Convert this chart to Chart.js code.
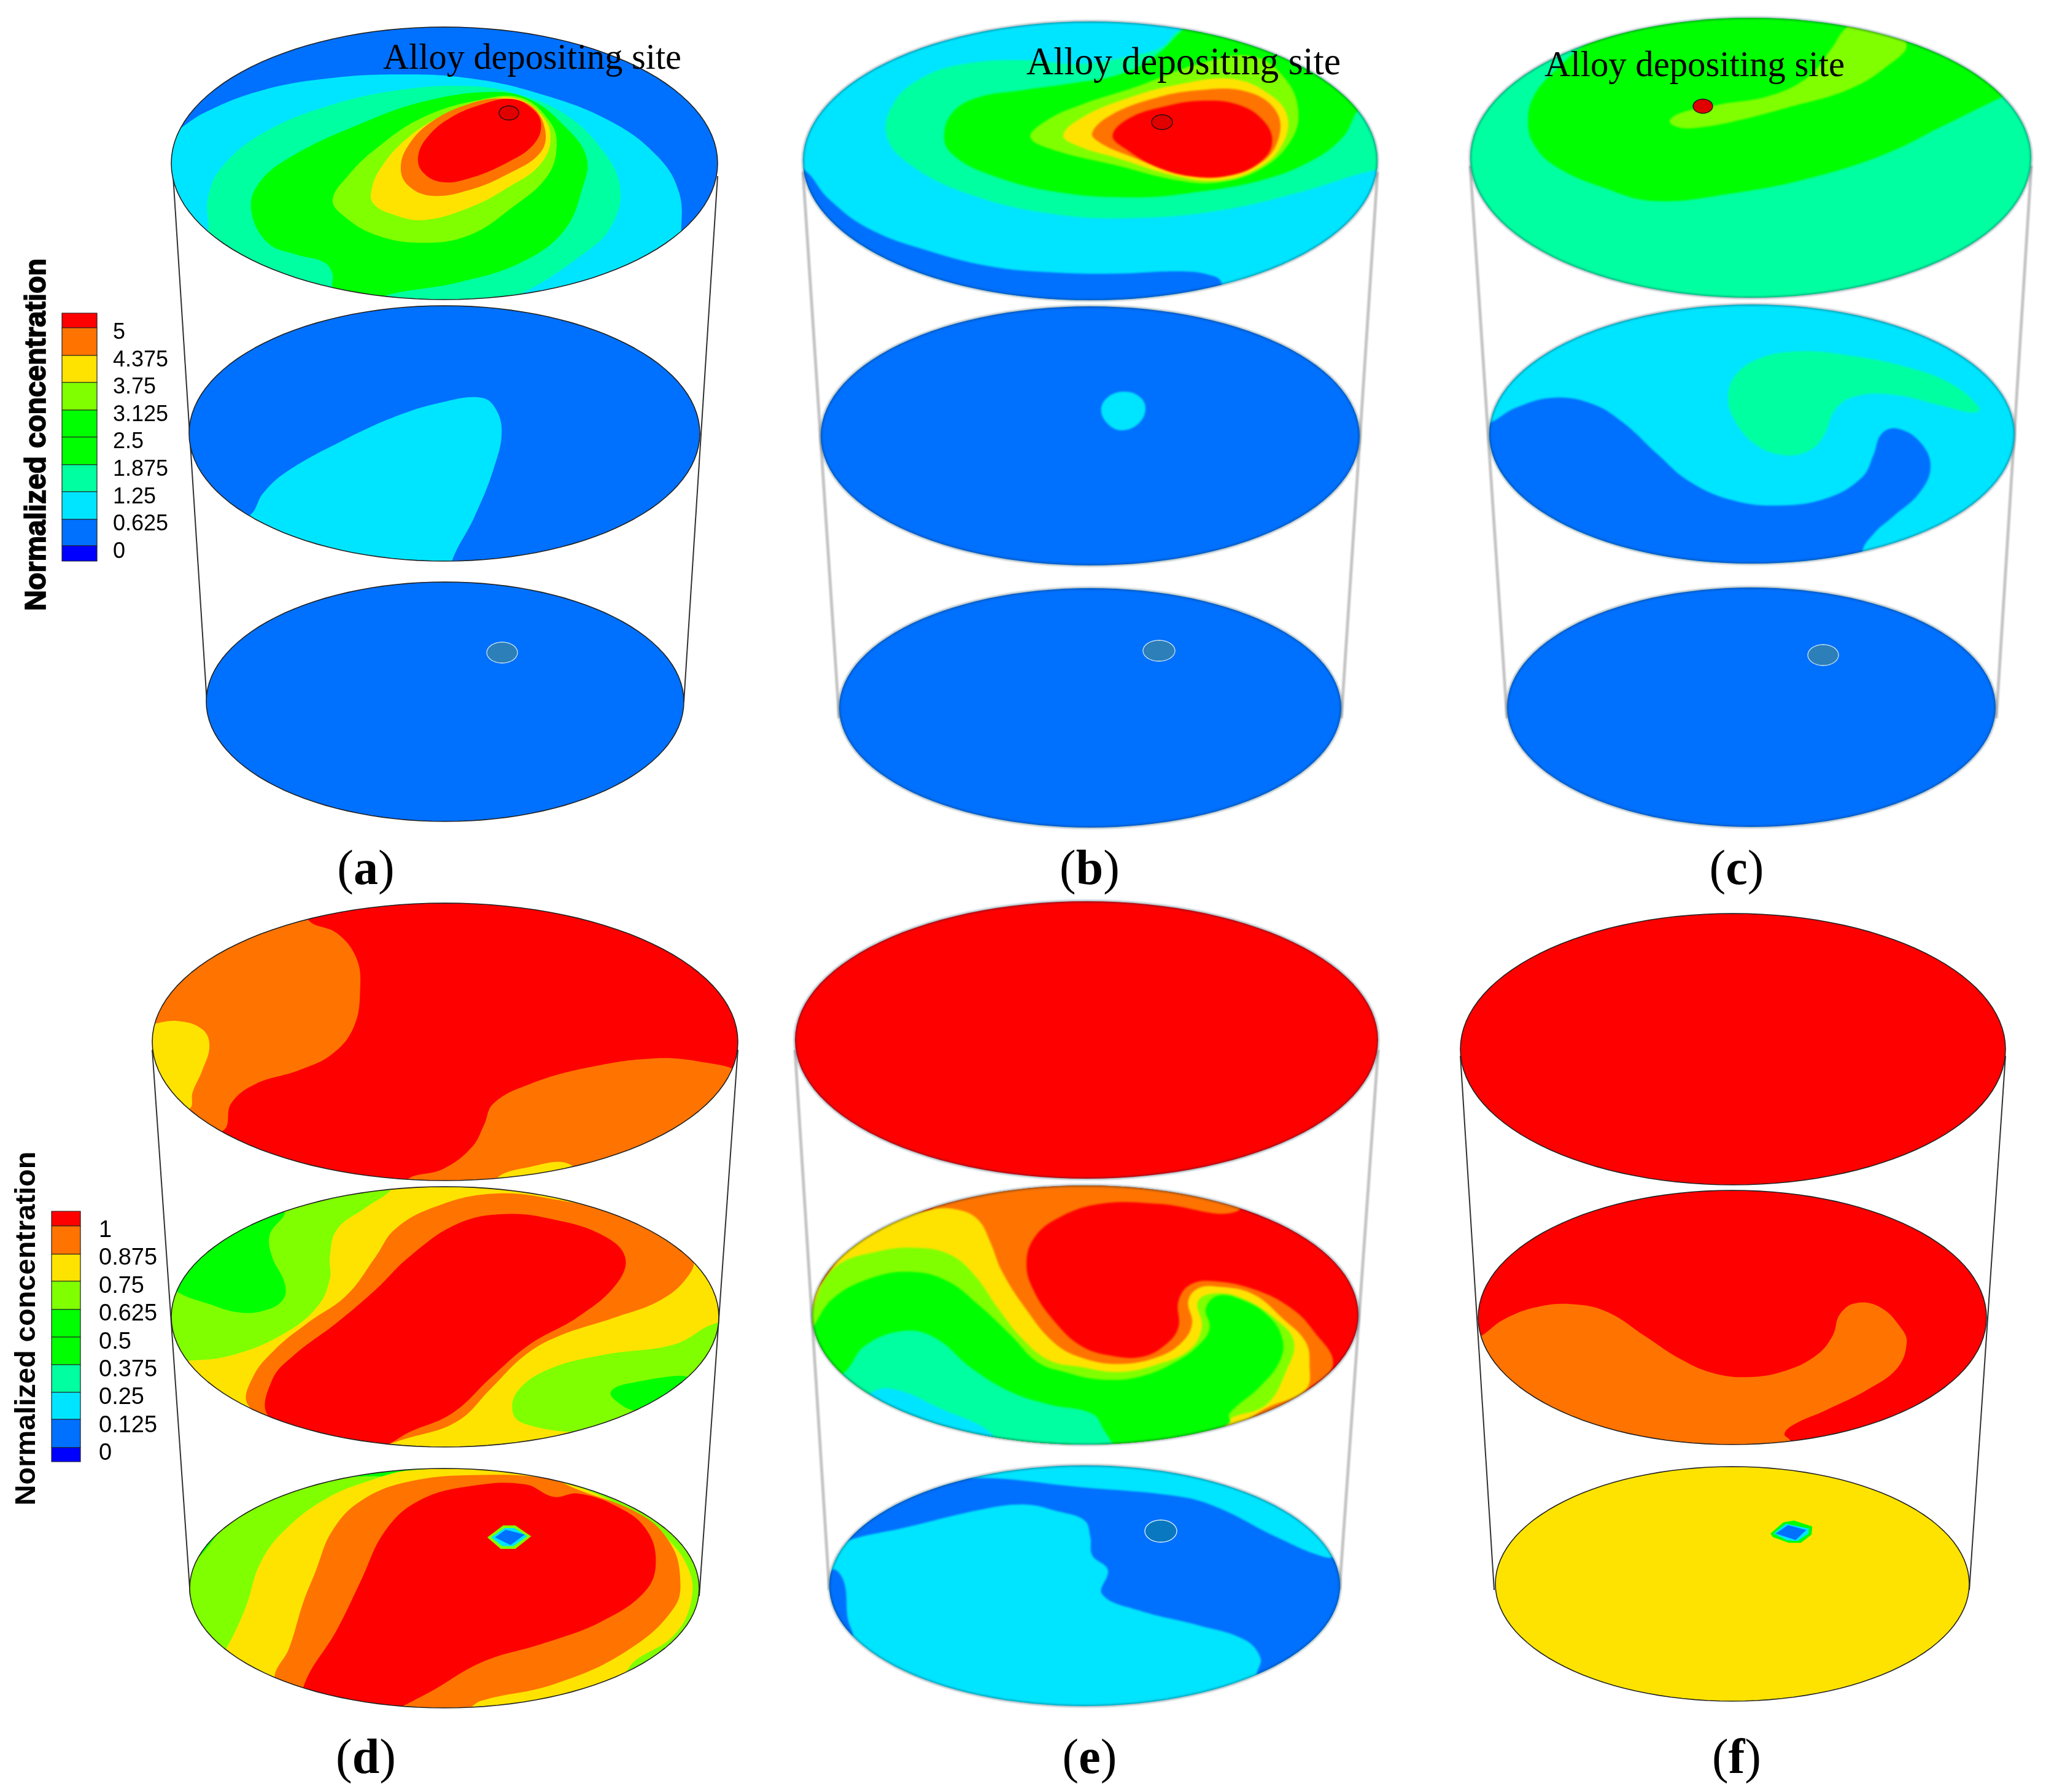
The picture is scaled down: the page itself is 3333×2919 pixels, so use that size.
<!DOCTYPE html>
<html><head><meta charset="utf-8">
<style>html,body{margin:0;padding:0;background:#fff}canvas{display:block}</style>
<script src="https://cdn.jsdelivr.net/npm/chart.js@4"></script>
</head><body><canvas id="c" width="3333" height="2919"></canvas>
<script>
// ---------- palette / legend values ----------
const levelColours=['#ff0000','#ff7300','#ffe300','#80ff00','#00ff00','#00ff00','#00ffa0','#00e5ff','#0070ff','#0000ff'];
const [RED,ORG,YEL,LIM,GRN,GR2,SPR,CYN,BLU]=levelColours;
const ticksUpper=['5','4.375','3.75','3.125','2.5','1.875','1.25','0.625','0'];
const ticksLower=['1','0.875','0.75','0.625','0.5','0.375','0.25','0.125','0'];
const barUpperY=[510,534,579,623,668,712,757,801,846,889,914];
const barLowerY=[1973,1997,2043,2087,2133,2178,2223,2268,2312,2358,2381];
const panelLabels=['a','b','c','d','e','f'];

// ---------- contour outlines ----------
const aTopCyan=[[370,340],[440,285],[560,230],[700,200],[850,190],[1000,200],[1150,240],[1300,310],[1400,400],[1445,490],[1450,590],[1440,820],[600,840],[250,600],[300,400]];
const aTopSpring=[[440,600],[442,510],[470,430],[560,340],[700,270],[850,230],[1000,220],[1100,240],[1200,290],[1280,380],[1320,480],[1300,580],[1240,650],[1110,750],[1000,800],[830,800],[600,720],[400,620]];
const aTopGreen=[[710,735],[708,700],[690,670],[630,650],[570,620],[535,540],[550,470],[620,400],[760,320],[900,260],[1050,235],[1130,255],[1200,320],[1248,400],[1240,480],[1200,590],[1110,670],[980,720],[835,750],[780,770]];
const aTopLime=[[708,510],[740,450],[800,380],[900,300],[1020,255],[1110,250],[1170,310],[1185,370],[1165,450],[1090,530],[1000,600],[900,620],[800,600],[730,550]];
const aTopYellow=[[790,490],[810,430],[870,350],[960,285],[1040,255],[1100,252],[1150,290],[1172,350],[1150,420],[1080,480],[1000,530],[900,562],[830,545],[795,520]];
const aTopOrange=[[853,430],[870,370],[920,310],[1000,265],[1070,252],[1130,270],[1160,330],[1150,390],[1080,445],[1000,485],[920,500],[870,475]];
const aTopRed=[[890,400],[910,350],[960,300],[1030,265],[1090,253],[1135,280],[1152,320],[1135,370],[1080,415],[1000,455],[940,465],[900,440]];
const aMidCyan=[[533,1315],[560,1260],[610,1205],[730,1125],[850,1060],[950,1025],[1020,1015],[1050,1035],[1068,1100],[1050,1200],[1010,1320],[960,1440],[960,1500],[500,1500],[480,1340]];

const bTopBlue=[[87,450],[150,530],[250,610],[400,670],[550,710],[700,725],[850,728],[1000,722],[1070,730],[1105,752],[1100,850],[50,850],[40,450]];
const bTopSpring=[[290,360],[310,270],[380,205],[480,170],[620,160],[760,170],[880,150],[960,125],[1005,80],[1200,40],[1600,300],[1600,440],[1480,452],[1300,510],[1100,560],[900,580],[700,570],[500,520],[350,440]];
const bTopGreen=[[430,365],[450,300],[510,260],[620,240],[750,220],[850,200],[930,160],[1005,85],[1050,30],[1300,30],[1560,170],[1440,290],[1400,365],[1320,430],[1200,480],[1050,510],[900,525],[700,510],[530,460],[450,410]];
const bTopLime=[[640,365],[680,320],[760,280],[900,230],[1050,170],[1180,150],[1260,210],[1292,300],[1270,380],[1200,450],[1100,485],[1000,480],[850,440],[700,400]];
const bTopYellow=[[720,360],[770,310],[880,260],[1000,225],[1130,210],[1220,250],[1265,310],[1250,390],[1190,450],[1100,480],[1000,470],[850,420],[760,390]];
const bTopOrange=[[790,355],[830,310],[930,265],[1050,240],[1170,245],[1240,300],[1240,380],[1190,440],[1100,470],[1000,460],[870,410],[810,380]];
const bTopRed=[[840,360],[880,315],[960,285],[1060,268],[1150,280],[1210,325],[1228,380],[1200,430],[1130,465],[1040,470],[950,445],[870,395]];
const bMidCyan=[[812,1090],[830,1055],[870,1042],[905,1055],[920,1085],[905,1125],[865,1145],[830,1130]];

const cTopGreen=[[222,320],[235,260],[280,200],[400,100],[600,20],[1045,10],[1400,30],[1640,170],[1450,260],[1300,335],[1150,410],[950,475],[750,515],[550,535],[420,500],[290,440],[235,380]];
const cTopLime=[[590,322],[620,300],[720,278],[850,255],[950,205],[1010,130],[1045,78],[1100,40],[1205,115],[1150,180],[1050,240],[900,285],[770,320],[660,340],[610,338]];
const cMidSpring=[[742,1060],[760,1000],[820,955],[920,935],[1050,945],[1200,975],[1320,1020],[1395,1085],[1380,1098],[1300,1080],[1170,1050],[1070,1055],[1020,1090],[990,1160],[950,1200],[880,1210],[810,1180],[760,1120]];
const cMidBlue=[[122,1125],[190,1085],[290,1058],[390,1075],[470,1125],[560,1210],[640,1280],[750,1330],[870,1345],[1000,1325],[1090,1270],[1120,1210],[1140,1155],[1180,1140],[1240,1175],[1268,1240],[1240,1310],[1170,1375],[1120,1420],[1090,1470],[1090,1600],[80,1600],[80,1130]];

const dTopOrangeA=[[640,65],[700,90],[740,135],[748,190],[735,260],[690,310],[620,340],[530,365],[480,400],[463,450],[300,500],[200,300],[300,100],[640,20]];
const dTopYellowA=[[318,255],[370,250],[420,265],[435,295],[420,340],[400,380],[393,410],[300,420],[280,260]];
const dTopOrangeB=[[845,540],[920,520],[980,480],[1005,440],[1025,400],[1100,365],[1220,335],[1360,318],[1460,325],[1540,345],[1640,420],[1500,620],[1000,640],[845,580]];
const dTopYellowB=[[1030,538],[1090,518],[1185,512],[1200,570],[1030,570]];
const dMidLimeA=[[815,555],[760,590],[700,630],[685,680],[685,720],[660,770],[590,820],[480,860],[385,870],[300,870],[300,600],[600,500],[815,530]];
const dMidGreenA=[[590,595],[560,640],[565,680],[590,725],[590,755],[560,775],[500,782],[430,765],[370,745],[300,700],[500,550]];
const dMidOrange=[[515,950],[525,900],[570,850],[640,800],[720,750],[780,680],[820,630],[900,590],[1020,565],[1150,575],[1300,610],[1437,685],[1425,720],[1370,760],[1280,790],[1160,825],[1090,860],[1020,920],[950,980],[850,1010],[770,1025],[600,1000]];
const dMidRed=[[557,970],[565,905],[610,860],[700,800],[780,740],[850,680],[950,620],[1050,602],[1150,612],[1250,640],[1298,680],[1280,730],[1200,790],[1100,840],[1020,900],[940,965],[850,1000],[790,1025],[660,1010]];
const dMidLimeB=[[1492,800],[1400,840],[1260,858],[1140,885],[1075,925],[1065,965],[1090,985],[1200,1000],[1600,1000],[1600,800]];
const dMidGreenB=[[1268,928],[1300,912],[1430,900],[1350,950],[1320,960],[1290,950]];
const dBotGreen=[[410,1230],[470,1170],[560,1120],[700,1085],[900,1068],[900,1000],[300,1100],[300,1300]];
const dBotYellow=[[850,1070],[780,1085],[680,1120],[590,1180],[540,1240],[510,1320],[470,1395],[400,1500],[1300,1600],[1300,1440],[1400,1370],[1435,1310],[1430,1250],[1380,1190],[1300,1140],[1180,1095],[1000,1068]];
const dBotOrange=[[1000,1078],[850,1090],[750,1125],[690,1180],[655,1255],[630,1310],[600,1395],[570,1450],[600,1550],[960,1510],[1000,1490],[1150,1460],[1300,1400],[1400,1320],[1412,1260],[1390,1200],[1330,1150],[1200,1105],[1140,1085]];
const dBotRed=[[630,1465],[700,1360],[750,1270],[800,1180],[870,1125],[980,1098],[1090,1095],[1150,1118],[1200,1112],[1280,1135],[1340,1175],[1362,1235],[1340,1290],[1250,1345],[1130,1385],[1000,1420],[880,1480],[790,1510],[650,1490]];
const dSpotOuter=[[1012,1192],[1045,1170],[1070,1170],[1103,1190],[1070,1213],[1040,1213]];
const dSpotMiddle=[[1020,1192],[1048,1175],[1068,1175],[1095,1190],[1066,1208],[1043,1208]];
const dSpotInner=[[1028,1192],[1050,1178],[1090,1187],[1060,1206]];

const eMidOrange=[[420,150],[420,50],[1200,50],[1200,155],[1000,135],[850,135],[740,175],[680,230],[662,300],[680,370],[730,450],[800,520],[880,548],[960,550],[1020,515],[1050,470],[1050,400],[1080,355],[1140,345],[1250,370],[1340,420],[1395,480],[1445,570],[1380,640],[1200,800],[300,800],[60,400]];
const eMidYellow=[[130,360],[200,260],[300,190],[420,150],[490,152],[540,180],[570,240],[600,320],[660,420],[730,510],[800,552],[900,570],[1000,550],[1060,510],[1085,460],[1075,400],[1100,365],[1150,360],[1240,380],[1320,450],[1375,510],[1385,570],[1375,640],[1275,690],[1000,850],[50,600],[50,400]];
const eMidLime=[[115,420],[170,310],[280,265],[390,255],[470,275],[530,330],[590,420],[650,500],[720,560],[800,578],[900,592],[1000,570],[1080,530],[1110,470],[1100,400],[1150,378],[1220,395],[1300,450],[1345,510],[1325,590],[1275,680],[1180,720],[1000,850],[50,600]];
const eMidGreen=[[120,465],[170,390],[270,335],[370,320],[460,345],[540,410],[620,490],[690,565],[760,592],[850,612],[950,605],[1050,560],[1110,510],[1130,470],[1120,420],[1150,385],[1210,395],[1280,440],[1315,500],[1310,560],[1260,630],[1180,705],[1180,730],[1000,850],[50,600]];
const eMidSpring=[[200,590],[250,520],[350,480],[430,500],[520,580],[620,645],[720,680],[830,705],[860,750],[885,800],[885,860],[300,860],[120,660]];
const eMidCyan=[[270,645],[330,640],[420,680],[580,770],[500,830],[200,720]];
const eBotBlue=[[205,1050],[350,1015],[550,965],[660,952],[740,970],[810,995],[825,1040],[830,1090],[870,1130],[855,1195],[950,1240],[1100,1280],[1220,1320],[1260,1370],[1255,1420],[1500,1500],[1500,1100],[1425,1095],[1300,1040],[1150,960],[1050,930],[800,905],[540,880],[300,900],[100,1100]];
const eBotBlueEdge=[[165,1130],[195,1160],[205,1260],[215,1310],[100,1250]];

const fMidOrange=[[55,482],[120,435],[220,398],[330,392],[420,415],[520,480],[620,545],[710,585],[810,598],[920,580],[1010,535],[1055,480],[1075,420],[1120,388],[1190,400],[1250,460],[1265,500],[1240,570],[1160,630],[1040,690],[940,735],[918,760],[935,780],[935,850],[0,850],[0,500]];
const fSpotOuter=[[878,1042],[915,1010],[945,1005],[997,1022],[995,1045],[965,1068],[930,1068],[885,1052]];
const fSpotMiddle=[[888,1042],[922,1014],[988,1028],[986,1042],[955,1063],[925,1061]];
const fSpotInner=[[893,1042],[928,1018],[980,1032],[950,1060]];

// discs: centre x, centre y, radius x, radius y
const aTop=[724,266,445,222],aMid=[724,706,416,208],aBot=[725,1143,389,195];
const bTop=[1776,262,468,227],bMid=[1776,710,439,211],bBot=[1776,1153,409,195];
const cTop=[2852,257,457,228],cMid=[2854,707,428,211],cBot=[2853,1152,398,195];
const dTop=[725,1697,477,226],dMid=[725,2145,446,212],dBot=[724,2587,415,195];
const eTop=[1770,1694,475,226],eMid=[1768,2142,445,211],eBot=[1767,2583,416,196];
const fTop=[2823,1709,444,221],fMid=[2822,2146,414,207],fBot=[2822,2580,386,191];

// cylinder edges: x0,y0,x1,y1
const coneA=[[282,287,337,1143],[1169,287,1114,1143]];
const coneB=[[1308,280,1367,1170],[2244,280,2185,1170]];
const coneC=[[2395,270,2455,1170],[3309,270,3252,1170]];
const coneD=[[248,1710,310,2600],[1202,1710,1139,2600]];
const coneE=[[1295,1710,1351,2590],[2245,1710,2182,2590]];
const coneF=[[2379,1720,2434,2590],[3267,1720,3208,2590]];

// marker ellipses: x,y,rx,ry
const siteA=[829,184,16,11.5],siteB=[1893,199,17,12],siteC=[2774,173,16,11.5];
const wellA=[818,1063,25,17],wellB=[1888,1060,26,17],wellC=[2970,1067,25,17],wellE=[1891,2494,26,18];

// crop frames the outlines were read in
const frA=[0,0,1200/1568,1000/1568],frB=[1250,0,1050/1568,960/1568],frC=[2350,0,983/1568,960/1568];
const frD=[0,1440,1230/1568,1400/1568],frE=[1250,1880,1000/1568,940/1568],frF=[2380,1900,900/1568,900/1568];

// ---------- build datasets ----------
const toPts=(fr,a)=>a.map(([x,y])=>({x:fr[0]+x*fr[2],y:fr[1]+y*fr[3]}));
const ovalPts=(g)=>{const p=[];for(let i=0;i<120;i++){const t=i/120*2*Math.PI;p.push({x:g[0]+g[2]*Math.cos(t),y:g[1]+g[3]*Math.sin(t)});}return p;};
const layers=[];
function push(o){o.order=-layers.length;o.pointRadius=0;layers.push(o);}
function cone(c,soft){c.forEach(s=>push({data:[{x:s[0],y:s[1]},{x:s[2],y:s[3]}],open:true,tension:0,
  borderColor:soft?'#c4c4c4':'#303030',borderWidth:soft?5:2,backgroundColor:'transparent',blur:soft?1:0}));}
function disc(g,base,regions,soft){
  push({data:ovalPts(g),tension:0,backgroundColor:base,borderWidth:0});
  regions.forEach(([col,arr,fr,t])=>push({data:toPts(fr,arr),tension:t===undefined?0.4:t,backgroundColor:col,clipTo:g,blur:soft?1.5:0,borderWidth:0}));
  push({data:ovalPts(g),tension:0,backgroundColor:'transparent',borderColor:soft?'rgba(0,50,70,0.35)':'#222',borderWidth:soft?4:1.6,blur:soft?1.5:0,strokeOnly:true});
}
function marker(m,fill,stroke){push({data:ovalPts(m),tension:0,backgroundColor:fill,borderColor:stroke,borderWidth:1.3});}
function colourBar(xs,ys){levelColours.forEach((c,i)=>push({tension:0,backgroundColor:c,borderColor:'#222',borderWidth:1.2,
  data:[{x:xs[0],y:ys[i]},{x:xs[1],y:ys[i]},{x:xs[1],y:ys[i+1]},{x:xs[0],y:ys[i+1]}]}));}

cone(coneA,false);cone(coneB,true);cone(coneC,true);cone(coneD,false);cone(coneE,true);cone(coneF,false);

disc(aTop,BLU,[[CYN,aTopCyan,frA],[SPR,aTopSpring,frA],[GRN,aTopGreen,frA],[LIM,aTopLime,frA],[YEL,aTopYellow,frA],[ORG,aTopOrange,frA],[RED,aTopRed,frA]]);
marker(siteA,'#e00000','#111');
disc(aMid,BLU,[[CYN,aMidCyan,frA]]);
disc(aBot,BLU,[]);marker(wellA,'#2c7fb8','#cfe6f0');

disc(bTop,CYN,[[BLU,bTopBlue,frB],[SPR,bTopSpring,frB],[GRN,bTopGreen,frB],[LIM,bTopLime,frB],[YEL,bTopYellow,frB],[ORG,bTopOrange,frB],[RED,bTopRed,frB]],true);
marker(siteB,'#e00000','#111');
disc(bMid,BLU,[[CYN,bMidCyan,frB]],true);
disc(bBot,BLU,[],true);marker(wellB,'#2c7fb8','#cfe6f0');

disc(cTop,SPR,[[GRN,cTopGreen,frC],[LIM,cTopLime,frC]],true);
marker(siteC,'#e00000','#111');
disc(cMid,CYN,[[SPR,cMidSpring,frC],[BLU,cMidBlue,frC]],true);
disc(cBot,BLU,[],true);marker(wellC,'#2c7fb8','#cfe6f0');

disc(dTop,RED,[[ORG,dTopOrangeA,frD],[YEL,dTopYellowA,frD],[ORG,dTopOrangeB,frD],[YEL,dTopYellowB,frD]]);
disc(dMid,YEL,[[LIM,dMidLimeA,frD],[GRN,dMidGreenA,frD],[ORG,dMidOrange,frD],[RED,dMidRed,frD],[LIM,dMidLimeB,frD],[GRN,dMidGreenB,frD]]);
disc(dBot,LIM,[[GRN,dBotGreen,frD],[YEL,dBotYellow,frD],[ORG,dBotOrange,frD],[RED,dBotRed,frD],[LIM,dSpotOuter,frD,0],[CYN,dSpotMiddle,frD,0],[BLU,dSpotInner,frD,0]]);

disc(eTop,RED,[],true);
disc(eMid,RED,[[ORG,eMidOrange,frE],[YEL,eMidYellow,frE],[LIM,eMidLime,frE],[GRN,eMidGreen,frE],[SPR,eMidSpring,frE],[CYN,eMidCyan,frE]],true);
disc(eBot,CYN,[[BLU,eBotBlue,frE],[BLU,eBotBlueEdge,frE]],true);marker(wellE,'#0a78c0','#e8f4ff');

disc(fTop,RED,[]);
disc(fMid,RED,[[ORG,fMidOrange,frF]]);
disc(fBot,YEL,[[GRN,fSpotOuter,frF,0],[CYN,fSpotMiddle,frF,0],[BLU,fSpotInner,frF,0]]);

colourBar([101,158],barUpperY);
colourBar([84,131],barLowerY);

// ---------- controller: closed filled contour on the library's line element ----------
class Region extends Chart.LineController{
  update(mode){const ds=this.getDataset(),l=this.getMeta().dataset;l._loop=!ds.open;l._fullLoop=!ds.open;super.update(mode);}
  draw(){
    const ds=this.getDataset(),chart=this.chart,ctx=chart.ctx,line=this.getMeta().dataset;
    const sx=chart.scales.x,sy=chart.scales.y;
    line.updateControlPoints(chart.chartArea,'x');
    ctx.save();
    if(ds.clipTo){const g=ds.clipTo;ctx.beginPath();
      ctx.ellipse(sx.getPixelForValue(g[0]),sy.getPixelForValue(g[1]),g[2],g[3],0,0,2*Math.PI);ctx.clip();}
    if(ds.blur)ctx.filter='blur('+ds.blur+'px)';
    ctx.beginPath();line.path(ctx);if(!ds.open)ctx.closePath();
    if(!ds.open&&!ds.strokeOnly){ctx.fillStyle=ds.backgroundColor;ctx.fill();}
    if(ds.borderWidth){ctx.lineWidth=ds.borderWidth;ctx.strokeStyle=ds.borderColor;ctx.lineJoin='round';ctx.stroke();}
    ctx.restore();
  }
}
Region.id='region';
Region.defaults={datasetElementType:'line',dataElementType:'point',showLine:true,spanGaps:false};
Chart.register(Region);

// ---------- text ----------
const SERIF='"Liberation Serif",serif',SANS='"Liberation Sans",Arial,sans-serif';
const textPlugin={id:'texts',afterDraw(chart){
  const c=chart.ctx,X=v=>chart.scales.x.getPixelForValue(v),Y=v=>chart.scales.y.getPixelForValue(v);
  c.save();c.fillStyle='#000';c.textBaseline='alphabetic';
  const put=(t,x,y,f,w,al)=>{c.font=f;c.textAlign=al||'left';w?c.fillText(t,X(x),Y(y),w):c.fillText(t,X(x),Y(y));};
  put('Alloy depositing site',624,112,'60px '+SERIF,486);
  put('Alloy depositing site',1672,121,'64px '+SERIF,512);
  put('Alloy depositing site',2516,124,'60px '+SERIF,489);
  ticksUpper.forEach((t,i)=>put(t,184,552+i*44.6,'36px '+SANS));
  ticksLower.forEach((t,i)=>put(t,161,2015+i*45.4,'38px '+SANS));
  const rot=(x,y,w,f,heavy)=>{c.save();c.translate(X(x),Y(y));c.rotate(-Math.PI/2);c.font=f;c.textAlign='center';c.fillText('Normalized concentration',0,0,w);
    if(heavy){c.lineWidth=1.6;c.strokeStyle='#000';c.strokeText('Normalized concentration',0,0,w);}c.restore();};
  rot(74,708,574,'bold 48px '+SANS,true);
  rot(57,2164,577,'bold 47px '+SANS,false);
  const lab=[[596,1440],[1775,1440],[2829,1440],[596,2888],[1775,2888],[2829,2888]];
  panelLabels.forEach((l,i)=>{
    const fR='80px '+SERIF,fB='bold 80px '+SERIF;
    c.textAlign='left';c.font=fR;const p=c.measureText('(').width;c.font=fB;const m=c.measureText(l).width;
    let x=X(lab[i][0])-(2*p+m)/2;const y=Y(lab[i][1]);
    c.font=fR;c.fillText('(',x,y);x+=p;c.font=fB;c.fillText(l,x,y);x+=m;c.font=fR;c.fillText(')',x,y);
  });
  c.restore();
}};

new Chart(document.getElementById('c'),{
  type:'region',
  data:{datasets:layers},
  plugins:[textPlugin],
  options:{responsive:false,animation:false,events:[],
    layout:{padding:0},
    plugins:{legend:{display:false},tooltip:{enabled:false},title:{display:false}},
    scales:{
      x:{type:'linear',min:0,max:3333,display:false},
      y:{type:'linear',min:0,max:2919,reverse:true,display:false}
    }}
});
</script></body></html>
